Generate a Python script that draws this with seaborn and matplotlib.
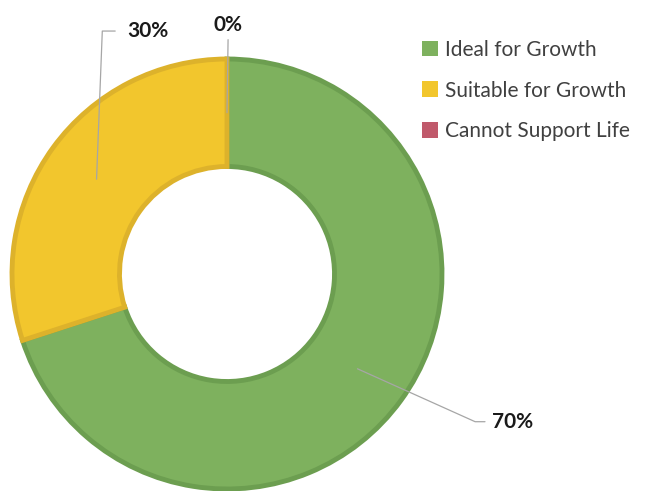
import numpy as np
import matplotlib
matplotlib.use("Agg")
import matplotlib.pyplot as plt
import seaborn as sns
from matplotlib.patches import Patch

# 데이터
categories = ["Ideal for Growth", "Suitable for Growth", "Cannot Support Life"]
values = [70, 30, 0]
labels = ["70%", "30%", "0%"]
colors = ["#7EB15E", "#F2C62D", "#C0596B"]
edges = ["#6C9E50", "#DDB22B", "none"]

sns.set_theme(style="white")
plt.rcParams["font.family"] = ["Lato", "DejaVu Sans"]

fig = plt.figure(figsize=(6.49, 4.91), dpi=100)
ax = fig.add_axes([12 / 649, 2 / 491, 430 / 649, 430 / 491])

wedges, _ = ax.pie(values, colors=colors, startangle=90, counterclock=False,
                   radius=1.0, wedgeprops=dict(width=0.5, linewidth=3.5))
for w, ec in zip(wedges, edges):
    w.set_edgecolor(ec)
ax.set_xlim(-1, 1)
ax.set_ylim(-1, 1)
ax.set_aspect("equal")
ax.axis("off")

# 레이블 위치 (데이터 좌표)
label_pos = [(1.33, -0.687), (-0.37, 1.13), (0.005, 1.16)]
elbow = [(1.154, -0.687), (-0.58, 1.13), None]
line_end = [(1.20, -0.687), (-0.52, 1.13), (0.005, 1.09)]

for w, lab, pos, el, le in zip(wedges, labels, label_pos, elbow, line_end):
    ang = np.deg2rad((w.theta1 + w.theta2) / 2)
    ax_pt = (0.75 * np.cos(ang), 0.75 * np.sin(ang))
    if el is None:
        xs = [ax_pt[0], le[0]]
        ys = [ax_pt[1], le[1]]
    else:
        xs = [ax_pt[0], el[0], le[0]]
        ys = [ax_pt[1], el[1], le[1]]
    ax.plot(xs, ys, color="#A6A6A6", lw=0.9, clip_on=False, zorder=5)
    ax.text(pos[0], pos[1], lab, ha="center", va="center", fontsize=15,
            fontweight="bold", color="#1A1A1A", clip_on=False)

handles = [Patch(facecolor=c, edgecolor="none") for c in colors]
fig.legend(handles, categories, loc="upper left",
           bbox_to_anchor=(403 / 649, 1 - 21 / 491), frameon=False,
           fontsize=15, labelcolor="#404040", handlelength=0.8,
           handleheight=0.8, handletextpad=0.3, labelspacing=1.0)

fig.savefig("out.png", dpi=100)
